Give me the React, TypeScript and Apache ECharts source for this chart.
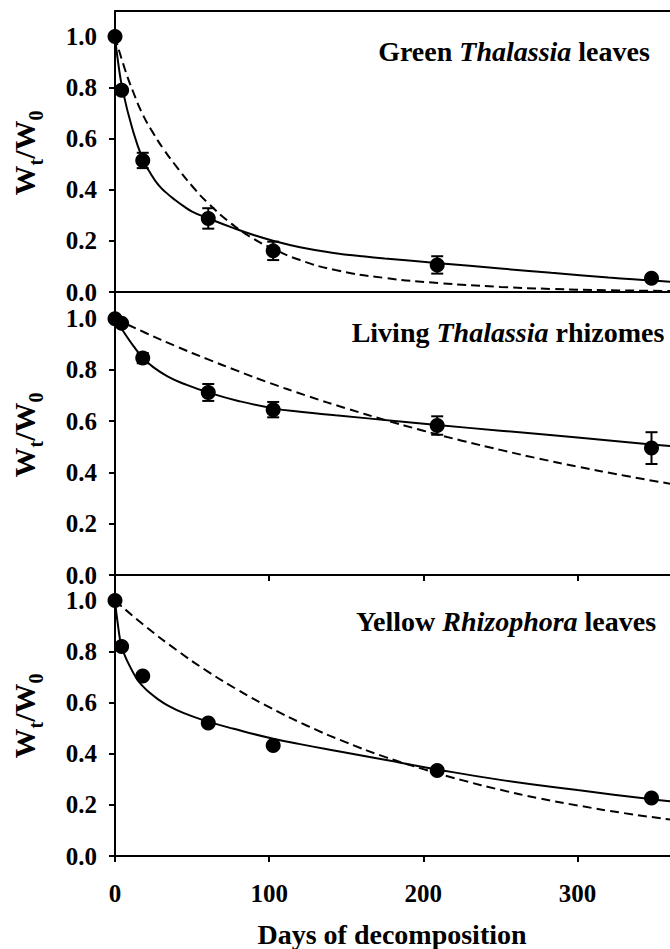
import React, { useEffect, useRef } from "react";
import * as echarts from "echarts";

// ---- sampled litter-bag data (days, Wt/W0, ± error) ----
const sampleDays = [0, 4.3, 18, 60.5, 102.6, 209, 348];
const greenMass = [1.0, 0.79, 0.515, 0.288, 0.161, 0.106, 0.054];
const greenErr = [0, 0, 0.03, 0.04, 0.036, 0.034, 0];
const rhizomeMass = [1.0, 0.982, 0.846, 0.712, 0.645, 0.583, 0.495];
const rhizomeErr = [0, 0, 0.02, 0.033, 0.03, 0.036, 0.062];
const yellowMass = [1.0, 0.82, 0.705, 0.521, 0.433, 0.335, 0.227];
const yellowErr = [0, 0, 0, 0, 0, 0, 0];

// ---- fitted curves ----
const greenSolidDays = [0, 2, 5, 11, 18, 23, 28, 33, 39, 44, 50, 61, 77, 89, 103, 120, 143, 160, 175, 210, 250, 283, 320, 349, 360];
const greenSolid = [1, 0.9, 0.79, 0.645, 0.52, 0.465, 0.42, 0.39, 0.36, 0.338, 0.315, 0.287, 0.25, 0.225, 0.2, 0.175, 0.152, 0.14, 0.131, 0.113, 0.092, 0.075, 0.057, 0.045, 0.04];
const greenDashDays = [0, 6, 12, 18, 25, 32, 40, 50, 60, 75, 88, 103, 120, 143, 175, 210, 250, 283, 320, 360];
const greenDash = [1, 0.88, 0.78, 0.695, 0.62, 0.555, 0.49, 0.415, 0.35, 0.27, 0.215, 0.168, 0.125, 0.086, 0.055, 0.035, 0.02, 0.012, 0.007, 0.004];

const rhizomeSolidDays = [0, 6, 12, 18, 25, 35, 45, 60.5, 80, 103, 120, 143, 185, 209, 250, 300, 348, 360];
const rhizomeSolid = [1, 0.945, 0.893, 0.848, 0.81, 0.772, 0.745, 0.712, 0.679, 0.65, 0.637, 0.623, 0.599, 0.585, 0.563, 0.536, 0.509, 0.503];
const rhizomeDashDays = [0, 20, 40, 60, 80, 100, 125, 150, 175, 200, 225, 250, 275, 300, 330, 360];
const rhizomeDash = [1, 0.944, 0.891, 0.842, 0.795, 0.75, 0.698, 0.65, 0.605, 0.563, 0.524, 0.488, 0.454, 0.423, 0.388, 0.356];

const yellowSolidDays = [0, 2, 4.3, 6, 8.6, 14, 18, 22.7, 28, 33.5, 44.3, 60, 77, 102, 120, 143, 175, 208, 250, 300, 347, 360];
const yellowSolid = [1, 0.9, 0.815, 0.79, 0.755, 0.695, 0.665, 0.638, 0.613, 0.592, 0.56, 0.527, 0.498, 0.46, 0.438, 0.412, 0.377, 0.34, 0.298, 0.258, 0.223, 0.214];
const yellowDashDays = [0, 20, 40, 60, 80, 100, 125, 150, 175, 200, 225, 250, 275, 300, 330, 360];
const yellowDash = [1, 0.898, 0.806, 0.723, 0.649, 0.583, 0.509, 0.445, 0.388, 0.34, 0.297, 0.259, 0.226, 0.198, 0.168, 0.143];

// ---- axes ----
const yTicks = [0, 0.2, 0.4, 0.6, 0.8, 1.0];
const xTicks = [0, 100, 200, 300];
const xMax = 360;
const yMax = 1.1;

// ---- panel titles: [normal, italic, normal] ----
const panelTitles = [
  ["Green ", "Thalassia", " leaves"],
  ["Living ", "Thalassia", " rhizomes"],
  ["Yellow ", "Rhizophora", " leaves"],
];
const xTitle = "Days of decomposition";

const FONT = "'Liberation Serif', 'Times New Roman', serif";

const zip = (xs: number[], ys: number[]) => xs.map((x, i) => [x, ys[i]]);

export default function App() {
  const ref = useRef<HTMLDivElement>(null);

  useEffect(() => {
    if (!ref.current) return;
    const chart = echarts.init(ref.current, null, { renderer: "svg" });

    const tops = [11, 293, 575];
    const heights = [281, 282, 281];
    const titlePos = [
      [514, 51],
      [508, 332],
      [506, 621],
    ];
    const nameY = [153, 435, 716];

    const panels = [
      { mass: greenMass, err: greenErr, sd: greenSolidDays, s: greenSolid, dd: greenDashDays, d: greenDash },
      { mass: rhizomeMass, err: rhizomeErr, sd: rhizomeSolidDays, s: rhizomeSolid, dd: rhizomeDashDays, d: rhizomeDash },
      { mass: yellowMass, err: yellowErr, sd: yellowSolidDays, s: yellowSolid, dd: yellowDashDays, d: yellowDash },
    ];

    const axisLine = { show: true, lineStyle: { color: "#000", width: 2 } };
    const labelFont = { fontFamily: FONT, fontWeight: "bold" as const, fontSize: 25, color: "#000" };

    const grid = tops.map((t, i) => ({ left: 115, right: 0, top: t, height: heights[i], outerBoundsMode: "none" }));

    const xAxis: any[] = tops.map((_, i) => ({
      type: "value",
      gridIndex: i,
      min: 0,
      max: xMax,
      interval: 100,
      axisLine,
      axisTick: { show: i > 0, length: 6, lineStyle: { color: "#000", width: 2 }, customValues: xTicks },
      axisLabel: { show: i === 2, margin: 25, ...labelFont, customValues: xTicks },
      splitLine: { show: false },
    }));
    xAxis.push({
      type: "value",
      gridIndex: 0,
      position: "top",
      min: 0,
      max: xMax,
      axisLine,
      axisTick: { show: false },
      axisLabel: { show: false },
      splitLine: { show: false },
    });

    const yAxis = tops.map((_, i) => ({
      type: "value",
      gridIndex: i,
      min: 0,
      max: yMax,
      interval: 0.2,
      axisLine,
      axisTick: { show: true, length: 6, lineStyle: { color: "#000", width: 2 }, customValues: yTicks },
      axisLabel: { margin: 18, ...labelFont, customValues: yTicks, formatter: (v: number) => v.toFixed(1) },
      splitLine: { show: false },
    }));

    const series: any[] = [];
    panels.forEach((p, i) => {
      series.push({
        type: "line",
        xAxisIndex: i,
        yAxisIndex: i,
        data: zip(p.dd, p.d),
        smooth: 0.5,
        showSymbol: false,
        lineStyle: { color: "#000", width: 2, type: [9, 5] },
        z: 2,
      });
      series.push({
        type: "line",
        xAxisIndex: i,
        yAxisIndex: i,
        data: zip(p.sd, p.s),
        smooth: 0.5,
        showSymbol: false,
        lineStyle: { color: "#000", width: 2 },
        z: 2,
      });
      series.push({
        type: "custom",
        xAxisIndex: i,
        yAxisIndex: i,
        data: sampleDays
          .map((d, k) => [d, p.mass[k] - p.err[k], p.mass[k] + p.err[k], p.err[k]])
          .filter((r) => r[3] > 0),
        renderItem: (_params: any, api: any) => {
          const lo = api.coord([api.value(0), api.value(1)]);
          const hi = api.coord([api.value(0), api.value(2)]);
          const w = 6;
          const style = { stroke: "#000", lineWidth: 2 };
          return {
            type: "group",
            children: [
              { type: "line", shape: { x1: lo[0], y1: lo[1], x2: hi[0], y2: hi[1] }, style },
              { type: "line", shape: { x1: lo[0] - w, y1: lo[1], x2: lo[0] + w, y2: lo[1] }, style },
              { type: "line", shape: { x1: hi[0] - w, y1: hi[1], x2: hi[0] + w, y2: hi[1] }, style },
            ],
          };
        },
        z: 3,
      });
      series.push({
        type: "scatter",
        xAxisIndex: i,
        yAxisIndex: i,
        data: zip(sampleDays, p.mass),
        symbol: "circle",
        symbolSize: 15,
        itemStyle: { color: "#000", opacity: 1 },
        z: 4,
      });
    });

    const graphic: any[] = [];
    panelTitles.forEach((t, i) => {
      graphic.push({
        type: "text",
        x: titlePos[i][0],
        y: titlePos[i][1],
        style: {
          text: `{b|${t[0]}}{i|${t[1]}}{b|${t[2]}}`,
          textAlign: "center",
          textVerticalAlign: "middle",
          fill: "#000",
          font: `bold 28px ${FONT}`,
          rich: {
            b: { fontFamily: FONT, fontWeight: "bold", fontSize: 28, fill: "#000" },
            i: { fontFamily: FONT, fontWeight: "bold", fontStyle: "italic", fontSize: 28, fill: "#000" },
          },
        },
      });
    });
    const bigF = `bold 30px ${FONT}`;
    const smallF = `bold 20px ${FONT}`;
    nameY.forEach((y) => {
      const mk = (text: string, x: number, dy: number, font: string) => ({
        type: "text",
        x,
        y: dy,
        style: { text, font, fill: "#000", textAlign: "left", textVerticalAlign: "middle" },
      });
      graphic.push({
        type: "group",
        x: 24,
        y,
        rotation: Math.PI / 2,
        children: [
          mk("W", -42.5, 0, bigF),
          mk("t", -12.5, 12, smallF),
          mk("/", -5.8, 0, bigF),
          mk("W", 2.5, 0, bigF),
          mk("0", 32.5, 12, smallF),
        ],
      });
    });
    graphic.push({
      type: "text",
      x: 392,
      y: 934,
      style: {
        text: xTitle,
        font: `bold 28px ${FONT}`,
        fill: "#000",
        textAlign: "center",
        textVerticalAlign: "middle",
      },
    });

    chart.setOption({
      animation: false,
      backgroundColor: "#fff",
      grid,
      xAxis,
      yAxis,
      series,
      graphic,
    });

    return () => chart.dispose();
  }, []);

  return (
    <div
      ref={ref}
      style={{ position: "absolute", left: 0, top: 0, width: 670, height: 949, background: "#fff" }}
    />
  );
}
